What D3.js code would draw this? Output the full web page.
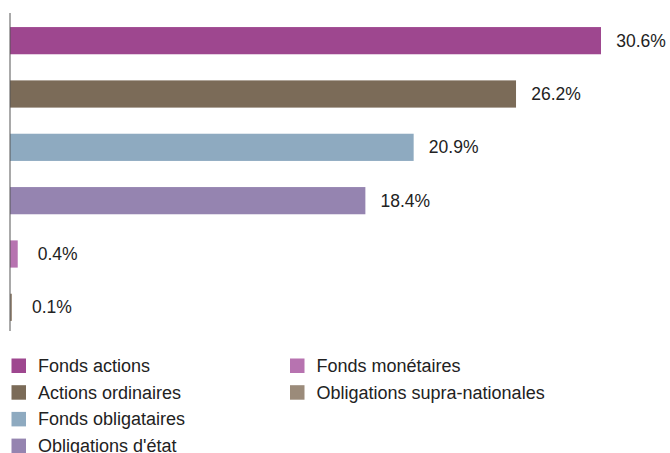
<!DOCTYPE html>
<html>
<head>
<meta charset="utf-8">
<script src="https://cdn.jsdelivr.net/npm/d3@7"></script>
<style>
  body { margin: 0; background: #fff; }
  text { font-family: "Liberation Sans", Arial, sans-serif; fill: #222; }
</style>
</head>
<body>
<div id="chart"></div>
<script>
const categories = ['Fonds actions', 'Actions ordinaires', 'Fonds obligataires',
  "Obligations d'état", 'Fonds monétaires', 'Obligations supra-nationales'];
const values = [30.6, 26.2, 20.9, 18.4, 0.4, 0.1];
const colors = ['#9e478f', '#7b6b58', '#8eaac0', '#9584b0', '#b773b0', '#9b8b7a'];

const width = 670;
const height = 453;
const margin = { top: 14, left: 10 };

const svg = d3.select('#chart').append('svg')
  .attr('width', width)
  .attr('height', height);

const x = d3.scaleLinear()
  .domain([0, 30.6])
  .range([margin.left, 601]);

const y = d3.scaleBand()
  .domain(categories)
  .range([margin.top, margin.top + 320])
  .paddingInner(0.49)
  .paddingOuter(0.245);

// bars
svg.selectAll('.bar')
  .data(values)
  .enter().append('rect')
  .attr('class', 'bar')
  .attr('x', x(0))
  .attr('y', (d, i) => y(categories[i]))
  .attr('width', d => x(d) - x(0))
  .attr('height', y.bandwidth())
  .style('fill', (d, i) => colors[i]);

// value labels
svg.selectAll('.val')
  .data(values)
  .enter().append('text')
  .attr('class', 'val')
  .attr('x', d => x(d) + 40)
  .attr('y', (d, i) => y(categories[i]) + y.bandwidth() / 2)
  .attr('dy', '0.35em')
  .attr('text-anchor', 'middle')
  .style('font-size', '17.5px')
  .text(d => d.toFixed(1) + '%');

// axis line
svg.append('line')
  .attr('x1', x(0)).attr('x2', x(0))
  .attr('y1', 13).attr('y2', 331)
  .style('stroke', '#555')
  .style('stroke-width', 1);

// legend, two columns (last row is clipped by the frame, as in the source)
const legend = svg.append('g');
const item = legend.selectAll('g')
  .data(categories)
  .enter().append('g')
  .attr('transform', (d, i) => {
    const col = i < 4 ? 0 : 1;
    const row = i < 4 ? i : i - 4;
    return 'translate(' + (11.5 + col * 278.5) + ',' + (365.5 + row * 26.7) + ')';
  });
item.append('rect')
  .attr('y', -7)
  .attr('width', 14.5)
  .attr('height', 14.5)
  .style('fill', (d, i) => colors[i]);
item.append('text')
  .attr('x', 26.5)
  .attr('y', 0)
  .attr('dy', '0.35em')
  .style('font-size', '18px')
  .text(d => d);
</script>
</body>
</html>
